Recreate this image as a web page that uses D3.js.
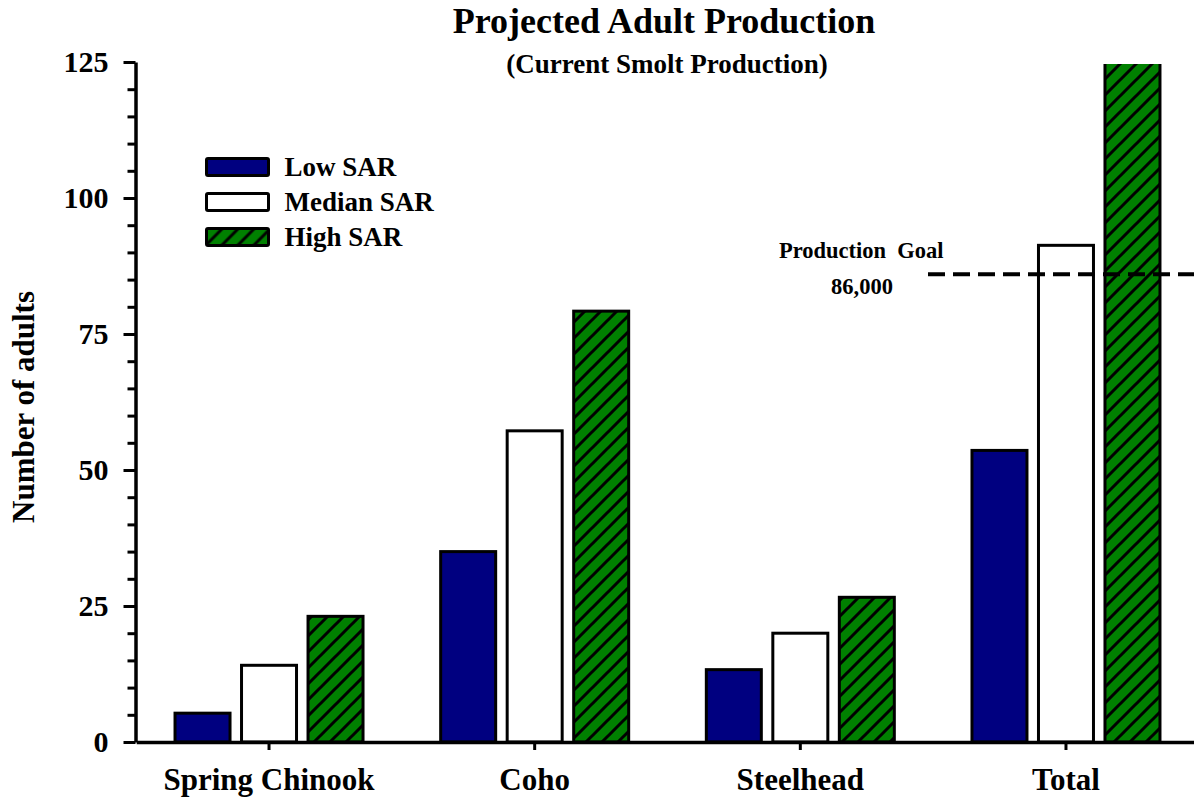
<!DOCTYPE html>
<html>
<head>
<meta charset="utf-8">
<script src="https://cdn.jsdelivr.net/npm/d3@7"></script>
<style>
  html, body { margin: 0; padding: 0; background: #fff; }
  svg { display: block; }
  text { font-family: "Liberation Serif", "Times New Roman", serif; font-weight: bold; fill: #000; }
</style>
</head>
<body>
<svg id="chart" width="1194" height="801"></svg>
<script>
// Projected adults (thousands) by species and smolt-to-adult return rate
const categories = ["Spring Chinook", "Coho", "Steelhead", "Total"];
const seriesNames = ["Low SAR", "Median SAR", "High SAR"];
const lowSAR    = [5.3, 35.0, 13.3, 53.6];
const medianSAR = [14.1, 57.2, 20.0, 91.3];
const highSAR   = [23.1, 79.2, 26.6, 128.9];
const yTicks = [0, 25, 50, 75, 100, 125];
const goalValue = 86;
const goalLabel = "86,000";

const seriesValues = [lowSAR, medianSAR, highSAR];

const svg = d3.select("#chart");
const W = 1194, H = 801;
svg.append("rect").attr("width", W).attr("height", H).attr("fill", "#fff");

const plotLeft = 135.5, plotTop = 62, plotBottom = 742;

const y = d3.scaleLinear().domain([0, 125]).range([plotBottom, plotTop]);
const x = d3.scaleBand().domain(categories).range([136.2, 1198.8]).padding(0);
const groupWidth = 188;
const xs = d3.scaleBand().domain(seriesNames)
  .range([-groupWidth / 2, groupWidth / 2]).paddingInner(0.173).paddingOuter(0);

// Hatch pattern for the high SAR bars
const defs = svg.append("defs");
const pat = defs.append("pattern").attr("id", "hatch")
  .attr("patternUnits", "userSpaceOnUse").attr("width", 16).attr("height", 16);
pat.append("rect").attr("width", 16).attr("height", 16).attr("fill", "#008000");
pat.append("path").attr("d", "M0,16 L16,0 M-4,4 L4,-4 M12,20 L20,12")
  .attr("stroke", "#000").attr("stroke-width", 3);

defs.append("clipPath").attr("id", "plotClip").append("rect")
  .attr("x", 0).attr("y", 64).attr("width", W).attr("height", plotBottom - 64 + 2);

const fills = ["#000080", "#ffffff", "url(#hatch)"];

// Bars
const barsG = svg.append("g").attr("clip-path", "url(#plotClip)");
seriesNames.forEach((s, si) => {
  barsG.selectAll(null).data(categories.map((c, ci) => ({ c, v: seriesValues[si][ci] })))
    .enter().append("rect")
    .attr("x", d => x(d.c) + x.bandwidth() / 2 + xs(s))
    .attr("y", d => y(d.v))
    .attr("width", xs.bandwidth())
    .attr("height", d => y(0) - y(d.v))
    .attr("fill", fills[si])
    .attr("stroke", "#000")
    .attr("stroke-width", 3);
});

// Y axis: major ticks with labels, minor ticks every 5
const minorVals = d3.range(0, 126, 5).filter(v => v % 25 !== 0);
const yMinor = svg.append("g").attr("transform", `translate(${plotLeft},0)`)
  .call(d3.axisLeft(y).tickValues(minorVals).tickSize(8).tickSizeOuter(0).tickFormat(""));
yMinor.select(".domain").remove();
yMinor.selectAll("line").attr("stroke", "#000").attr("stroke-width", 3);

const yAxis = svg.append("g").attr("transform", `translate(${plotLeft},0)`)
  .call(d3.axisLeft(y).tickValues(yTicks).tickSize(12).tickSizeOuter(0).tickPadding(15));
yAxis.select(".domain").attr("stroke", "#000").attr("stroke-width", 3.5);
yAxis.selectAll(".tick line").attr("stroke", "#000").attr("stroke-width", 3);
yAxis.selectAll(".tick text")
  .attr("font-family", "Liberation Serif, Times New Roman, serif")
  .attr("font-weight", "bold").attr("font-size", 30).attr("fill", "#000")
  .attr("dy", "0.33em");

// X axis
const xAxis = svg.append("g").attr("transform", `translate(0,${plotBottom})`)
  .call(d3.axisBottom(x).tickSize(8).tickSizeOuter(0));
xAxis.select(".domain").attr("stroke", "#000").attr("stroke-width", 3.5);
xAxis.selectAll(".tick line").attr("stroke", "#000").attr("stroke-width", 3);
xAxis.selectAll(".tick text")
  .attr("font-family", "Liberation Serif, Times New Roman, serif")
  .attr("font-weight", "bold").attr("font-size", 31).attr("fill", "#000")
  .attr("y", 48).attr("dy", 0);

// Production goal line
svg.append("line")
  .attr("x1", 928).attr("x2", W)
  .attr("y1", y(goalValue)).attr("y2", y(goalValue))
  .attr("stroke", "#000").attr("stroke-width", 4).attr("stroke-dasharray", "17,8");
svg.append("text").attr("x", 779).attr("y", 258).attr("font-size", 22.5)
  .style("white-space", "pre").text("Production  Goal");
svg.append("text").attr("x", 831).attr("y", 294).attr("font-size", 22.5).text(goalLabel);

// Legend
const legend = svg.append("g").attr("transform", "translate(206.5,158.5)");
seriesNames.forEach((s, i) => {
  const g = legend.append("g").attr("transform", `translate(0,${i * 35})`);
  g.append("rect").attr("width", 62).attr("height", 17)
    .attr("fill", fills[i]).attr("stroke", "#000").attr("stroke-width", 3).attr("rx", 1.5);
  g.append("text").attr("x", 78).attr("y", 17.5).attr("font-size", 27).text(s);
});

// Titles
svg.append("text").attr("x", 664).attr("y", 33).attr("text-anchor", "middle")
  .attr("font-size", 36).text("Projected Adult Production");
svg.append("text").attr("x", 667).attr("y", 73).attr("text-anchor", "middle")
  .attr("font-size", 27).text("(Current Smolt Production)");

// Y axis title
svg.append("text").attr("transform", "translate(34,407) rotate(-90)")
  .attr("text-anchor", "middle").attr("font-size", 31).text("Number of adults");
</script>
</body>
</html>
